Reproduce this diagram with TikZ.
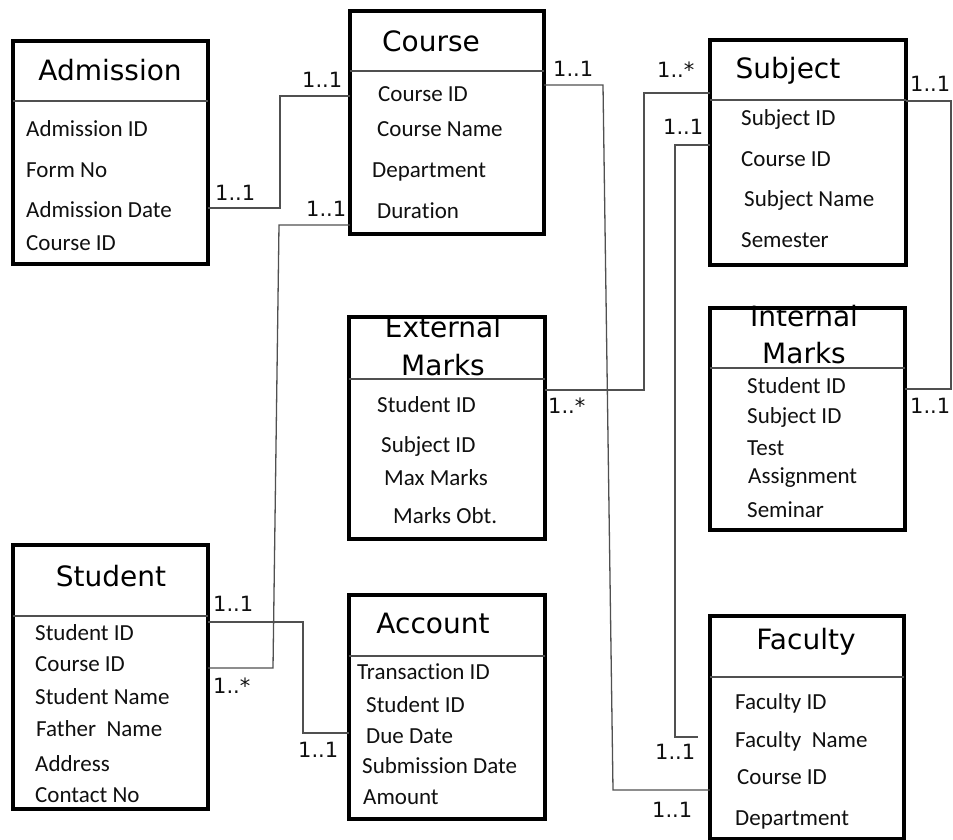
\documentclass[tikz,border=0pt]{standalone}
\usepackage{fontspec}
\setmainfont{Carlito}[Ligatures=NoCommon]
\newfontfamily\headfont{DejaVu Sans}
\definecolor{linkgray}{HTML}{505050}
\definecolor{inkblack}{HTML}{101010}
\tikzset{
  erframe/.style={draw=black, line width=3.6pt, inner sep=0pt, outer sep=0pt, rectangle},
  divider/.style={draw=linkgray, line width=1.4pt},
  link/.style={draw=linkgray, line width=1.3pt},
  attr/.style={anchor=base west, inner sep=0pt, text=inkblack, font=\fontsize{23}{25}\selectfont},
  etitle/.style={anchor=base, inner sep=0pt, text=black, font=\headfont\fontsize{28}{30}\selectfont},
  card/.style={anchor=base west, inner sep=0pt, text=inkblack, font=\headfont\fontsize{21}{24}\selectfont},
}
% entity frame: name, outer left, top, right, bottom, divider y
\newcommand\erbox[6]{%
  \node[erframe, minimum width={#4-#2-3.6}, minimum height={#5-#3-3.6}]
    (#1) at ({(#2+#4)/2},{(#3+#5)/2}) {};
  \draw[divider] (#1.west |- 0,#6) -- (#1.east |- 0,#6);}
\begin{document}
\begin{tikzpicture}[x=1pt,y=-1pt]
\useasboundingbox (0,0) rectangle (953,840);
\fill[white] (0,0) rectangle (953,840);
\clip (0,0) rectangle (953,840);

% ---- entities ----
\erbox{adm}{11}{39}{210}{266}{101}
\erbox{crs}{348}{9}{546}{236}{71}
\erbox{sub}{708}{38}{908}{267}{100}
\erbox{ext}{347}{315}{547}{541}{379}
\erbox{int}{708}{306}{907}{532}{368}
\erbox{stu}{11}{543}{210}{811}{616}
\erbox{acc}{347}{593}{547}{821}{656}
\erbox{fac}{708}{614}{906}{841}{677}

% Admission
\node[etitle] (admT) at (110,81) {Admission};
\node[attr] (adm1) at (26,136) {Admission ID};
\node[attr] (adm2) at (26,177) {Form No};
\node[attr] (adm3) at (26,217) {Admission Date};
\node[attr] (adm4) at (26,250) {Course ID};

% Course
\node[etitle] (crsT) at (431,52) {Course};
\node[attr] (crs1) at (378,102) {Course ID};
\node[attr] (crs2) at (377,137) {Course Name};
\node[attr] (crs3) at (372,177) {Department};
\node[attr] (crs4) at (377,218) {Duration};

% Subject
\node[etitle] (subT) at (788,79) {Subject};
\node[attr] (sub1) at (741,126) {Subject ID};
\node[attr] (sub2) at (741,167) {Course ID};
\node[attr] (sub3) at (744,206) {Subject Name};
\node[attr] (sub4) at (741,247) {Semester};

% External Marks
\node[etitle] (extT1) at (443,337) {External};
\node[etitle] (extT2) at (443,375) {Marks};
\node[attr] (ext1) at (377,412) {Student ID};
\node[attr] (ext2) at (381,452) {Subject ID};
\node[attr] (ext3) at (384,485) {Max Marks};
\node[attr] (ext4) at (393,523) {Marks Obt.};

% Internal Marks
\node[etitle] (intT1) at (804,326) {Internal};
\node[etitle] (intT2) at (804,363) {Marks};
\node[attr] (int1) at (747,393) {Student ID};
\node[attr] (int2) at (747,423) {Subject ID};
\node[attr] (int3) at (747,455) {Test};
\node[attr] (int4) at (748,483) {Assignment};
\node[attr] (int5) at (747,517) {Seminar};

% Student
\node[etitle] (stuT) at (111,586) {Student};
\node[attr] (stu1) at (35,640) {Student ID};
\node[attr] (stu2) at (35,671) {Course ID};
\node[attr] (stu3) at (35,704) {Student Name};
\node[attr] (stu4) at (36,736) {Father\ \ Name};
\node[attr] (stu5) at (35,771) {Address};
\node[attr] (stu6) at (35,802) {Contact No};

% Account
\node[etitle] (accT) at (433,633) {Account};
\node[attr] (acc1) at (357,679) {Transaction ID};
\node[attr] (acc2) at (366,712) {Student ID};
\node[attr] (acc3) at (366,743) {Due Date};
\node[attr] (acc4) at (362,773) {Submission Date};
\node[attr] (acc5) at (363,804) {Amount};

% Faculty
\node[etitle] (facT) at (806,649) {Faculty};
\node[attr] (fac1) at (735,709) {Faculty ID};
\node[attr] (fac2) at (735,747) {Faculty\ \ Name};
\node[attr] (fac3) at (737,784) {Course ID};
\node[attr] (fac4) at (735,825) {Department};

% ---- relationships ----
\draw[link] (adm.east |- 0,208) -| (280,96) -- (crs.west |- 0,96);
\draw[link] (crs.west |- 0,225) -- (279,225) -- (273,668) -- (stu.east |- 0,668);
\draw[link] (stu.east |- 0,622) -| (303,733) -- (acc.west |- 0,733);
\draw[link] (crs.east |- 0,85) -- (603,85) -- (613,790) -- (fac.west |- 0,790);
\coordinate (facstub) at (698,737);
\draw[link] (sub.west |- 0,145) -| (675,737) -- (facstub);
\draw[link] (sub.west |- 0,93) -| (644,390) -- (ext.east |- 0,390);
\draw[link] (sub.east |- 0,101) -| (951,389) -- (int.east |- 0,389);

% ---- multiplicities ----
\node[card] (m1) at (215,200) {1..1};
\node[card] (m2) at (302,88) {1..1};
\node[card] (m3) at (306,216) {1..1};
\node[card] (m4) at (553,77) {1..1};
\node[card] (m5) at (657,78) {1..*};
\node[card] (m6) at (663,135) {1..1};
\node[card] (m7) at (910,92) {1..1};
\node[card] (m8) at (548,413) {1..*};
\node[card] (m9) at (910,413) {1..1};
\node[card] (m10) at (213,611) {1..1};
\node[card] (m11) at (213,693) {1..*};
\node[card] (m12) at (298,757) {1..1};
\node[card] (m13) at (655,759) {1..1};
\node[card] (m14) at (652,817) {1..1};
\end{tikzpicture}
\end{document}
